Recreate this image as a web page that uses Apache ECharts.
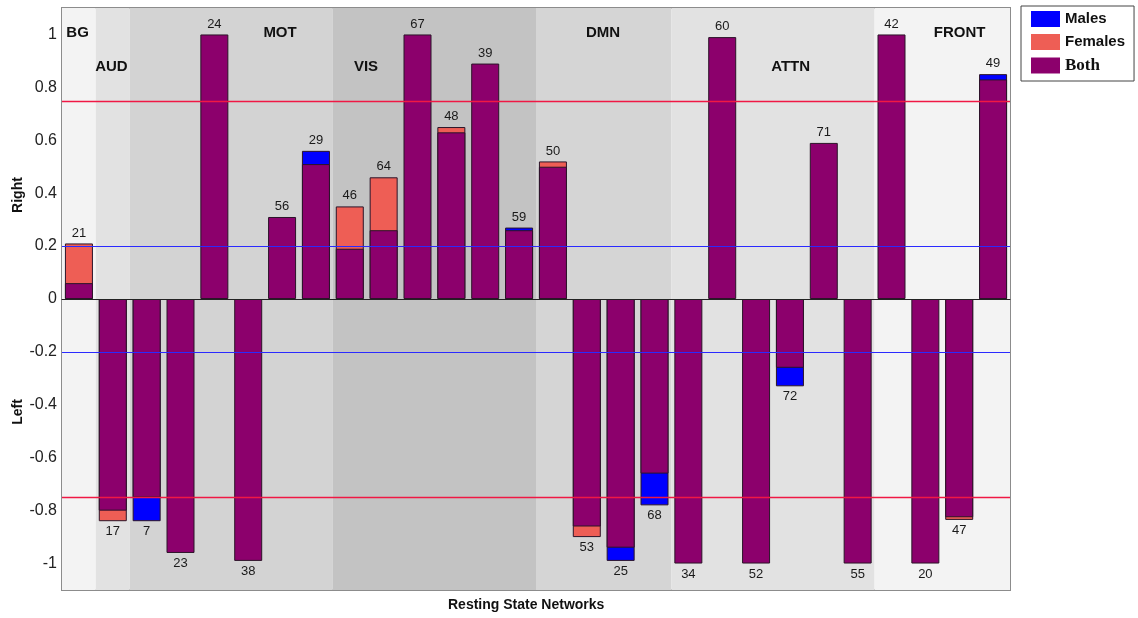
<!DOCTYPE html>
<html>
<head>
<meta charset="utf-8">
<title>Resting State Networks</title>
<script src="https://cdn.jsdelivr.net/npm/echarts@6/dist/echarts.min.js"></script>
<style>
  html, body { margin: 0; padding: 0; background: #ffffff; }
  #chart { width: 1138px; height: 618px; }
</style>
</head>
<body>
<div id="chart"></div>
<script>
// Network IDs along the x axis
const networks = ['21','17','7','23','24','38','56','29','46','64','67','48','39','59',
                  '50','53','25','68','34','60','52','72','71','55','42','20','47','49'];

// Laterality values (positive = right, negative = left)
const both    = [0.06, -0.80, -0.75, -0.96, 1.00, -0.99, 0.31, 0.51, 0.19, 0.26, 1.00, 0.63, 0.89, 0.26,
                 0.50, -0.86, -0.94, -0.66, -1.00, 0.99, -1.00, -0.26, 0.59, -1.00, 1.00, -1.00, -0.825, 0.83];
const males   = [null, null, -0.84, null, null, null, null, 0.56, null, null, null, null, null, 0.27,
                 null, null, -0.99, -0.78, null, null, null, -0.33, null, null, null, null, null, 0.85];
const females = [0.21, -0.84, null, null, null, null, null, null, 0.35, 0.46, null, 0.65, null, null,
                 0.52, -0.90, null, null, null, null, null, null, null, null, null, null, -0.835, null];

// Network groups: name and number of networks in each
const groupNames = ['BG', 'AUD', 'MOT', 'VIS', 'DMN', 'ATTN', 'FRONT'];
const groupSizes = [1, 1, 6, 6, 4, 6, 4];

// Y axis tick labels
const yTicks = [-1, -0.8, -0.6, -0.4, -0.2, 0, 0.2, 0.4, 0.6, 0.8, 1];

// Threshold lines
const redLines = [0.75, -0.75];
const blueLines = [0.2, -0.2];

// --- styling ---
const groupShades = ['#f3f3f3', '#e2e2e2', '#d3d3d3', '#c3c3c3', '#d5d5d5', '#e2e2e2', '#f3f3f3'];
// group label anchor: [offset from group start in category units, y value]
const groupLabelAt = [[0.46, 1.005], [0.46, 0.876], [4.44, 1.005], [0.98, 0.876],
                      [1.98, 1.005], [3.52, 0.876], [2.51, 1.005]];

const C_MALE = '#0000ff', C_FEMALE = '#ee5e55', C_BOTH = '#8c006c';
const C_RED_LINE = '#f01844', C_BLUE_LINE = '#2a2aff';

// group spans along a 0..N value axis
const groups = [];
let start = 0;
groupNames.forEach((name, i) => {
  groups.push([start, start + groupSizes[i], i]);
  start += groupSizes[i];
});

// threshold rows: [value, 0 = red / 1 = blue]
const thresholdRows = redLines.map(v => [v, 0]).concat(blueLines.map(v => [v, 1]));

// outermost value per network, where the ID label sits
const extent = both.map((b, i) => {
  let v = b;
  [males[i], females[i]].forEach(x => { if (x != null && Math.abs(x) > Math.abs(v)) v = x; });
  return v;
});

const barBorder = { borderColor: '#2b1428', borderWidth: 1 };

const chart = echarts.init(document.getElementById('chart'), null, { renderer: 'canvas' });

chart.setOption({
  animation: false,
  backgroundColor: '#ffffff',
  textStyle: { fontFamily: 'Arial, "Liberation Sans", sans-serif' },
  grid: {
    left: 62, right: 128, top: 8, bottom: 28,
    show: true, borderColor: '#8c8c8c', borderWidth: 2, backgroundColor: 'transparent'
  },
  legend: {
    orient: 'vertical',
    left: 1021, top: 6,
    padding: [5, 9, 7, 10],
    itemWidth: 29, itemHeight: 16, itemGap: 7,
    borderColor: '#444', borderWidth: 1, backgroundColor: '#ffffff',
    icon: 'rect',
    itemStyle: { borderWidth: 0 },
    data: [
      { name: 'Males',   textStyle: { fontFamily: 'Arial, "Liberation Sans"', fontWeight: 'bold', fontSize: 15, color: '#111' } },
      { name: 'Females', textStyle: { fontFamily: 'Arial, "Liberation Sans"', fontWeight: 'bold', fontSize: 15, color: '#111' } },
      { name: 'Both',    textStyle: { fontFamily: '"Liberation Serif", "Times New Roman", serif', fontWeight: 'bold', fontSize: 17, color: '#111' } }
    ]
  },
  xAxis: [
    {
      type: 'category',
      data: networks,
      axisLine: { show: true, onZero: true, lineStyle: { color: '#222', width: 1 } },
      axisTick: { show: false },
      axisLabel: { show: false },
      splitLine: { show: false },
      z: 4
    },
    {
      type: 'value', min: 0, max: networks.length, show: false
    }
  ],
  yAxis: {
    type: 'value',
    min: -1.1, max: 1.1,
    axisLine: { show: false },
    axisTick: { show: false },
    splitLine: { show: false },
    axisLabel: {
      customValues: yTicks,
      formatter: v => String(v),
      fontSize: 16, color: '#222', margin: 5
    }
  },
  graphic: [
    { type: 'text', left: 448, top: 598, style: { text: 'Resting State Networks', font: 'bold 14px Arial, "Liberation Sans"', fill: '#111' } },
    { type: 'text', x: 18, y: 195, rotation: Math.PI / 2, style: { text: 'Right', font: 'bold 14px Arial, "Liberation Sans"', fill: '#111', align: 'center', verticalAlign: 'middle' } },
    { type: 'text', x: 18, y: 412, rotation: Math.PI / 2, style: { text: 'Left', font: 'bold 14px Arial, "Liberation Sans"', fill: '#111', align: 'center', verticalAlign: 'middle' } }
  ],
  series: [
    {
      // shaded network groups with their names
      type: 'custom',
      xAxisIndex: 1, yAxisIndex: 0,
      silent: true,
      z: 0,
      data: groups,
      renderItem: (params, api) => {
        const s = api.value(0), e = api.value(1), i = api.value(2);
        const p0 = api.coord([s, 1.1]);
        const p1 = api.coord([e, -1.1]);
        const lab = api.coord([s + groupLabelAt[i][0], groupLabelAt[i][1]]);
        return {
          type: 'group',
          children: [
            { type: 'rect', shape: { x: p0[0], y: p0[1], width: p1[0] - p0[0], height: p1[1] - p0[1] },
              style: { fill: groupShades[i] } },
            { type: 'text', x: lab[0], y: lab[1],
              style: { text: groupNames[i], font: 'bold 15px Arial, "Liberation Sans"', fill: '#111',
                       align: 'center', verticalAlign: 'middle' } }
          ]
        };
      }
    },
    {
      name: 'Females', type: 'bar', data: females, barWidth: 28, barGap: '-100%',
      itemStyle: Object.assign({ color: C_FEMALE }, barBorder), z: 2
    },
    {
      name: 'Males', type: 'bar', data: males, barWidth: 28, barGap: '-100%',
      itemStyle: Object.assign({ color: C_MALE }, barBorder), z: 2
    },
    {
      name: 'Both', type: 'bar', data: both, barWidth: 28, barGap: '-100%',
      itemStyle: Object.assign({ color: C_BOTH }, barBorder), z: 2
    },
    {
      // network ID labels at the outer end of each bar
      name: 'ids', type: 'bar', barWidth: 28, barGap: '-100%', silent: true, z: 3,
      itemStyle: { color: 'transparent', borderWidth: 0 },
      data: extent.map((v, i) => ({
        value: v,
        label: {
          show: true,
          position: v >= 0 ? 'top' : 'bottom',
          distance: 4,
          formatter: networks[i],
          fontSize: 13, color: '#1a1a1a'
        }
      }))
    },
    {
      // horizontal threshold lines across the plot
      type: 'custom',
      xAxisIndex: 1, yAxisIndex: 0,
      silent: true,
      z: 5,
      data: thresholdRows,
      renderItem: (params, api) => {
        const v = api.value(0), kind = api.value(1);
        const a = api.coord([0, v]);
        const b = api.coord([networks.length, v]);
        const y = Math.round(a[1]) + 0.5;
        return {
          type: 'line',
          shape: { x1: a[0], y1: y, x2: b[0], y2: y },
          style: { stroke: kind === 0 ? C_RED_LINE : C_BLUE_LINE, lineWidth: kind === 0 ? 1.6 : 1 }
        };
      }
    }
  ]
});
</script>
</body>
</html>
